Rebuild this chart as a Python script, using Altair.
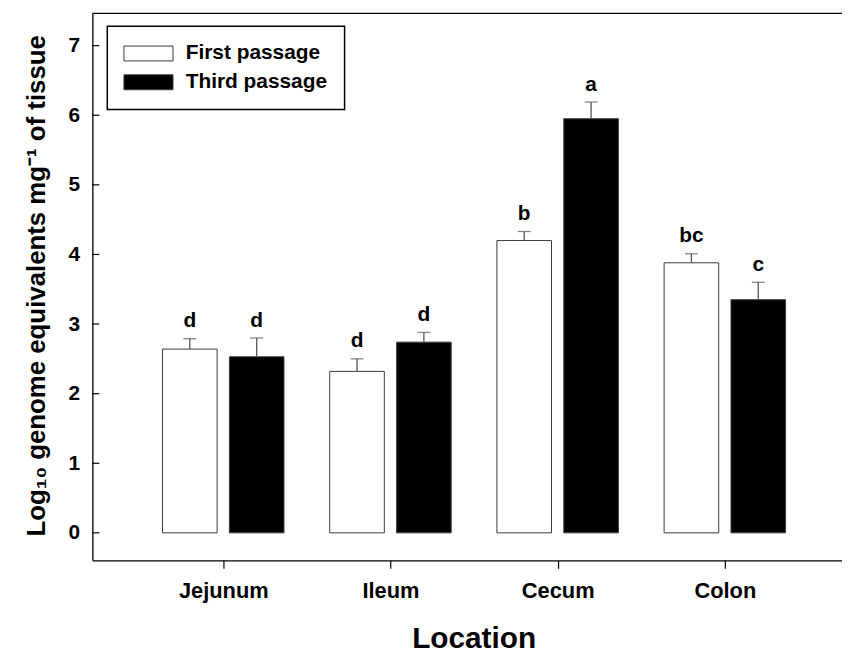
import json
import altair as alt
import pandas as pd

# ---- data ----
categories = ["Jejunum", "Ileum", "Cecum", "Colon"]
series_names = ["First passage", "Third passage"]
first_mean = [2.64, 2.32, 4.20, 3.88]
first_err = [0.15, 0.18, 0.13, 0.13]
third_mean = [2.53, 2.74, 5.95, 3.35]
third_err = [0.27, 0.14, 0.24, 0.25]
first_letters = ["d", "d", "b", "bc"]
third_letters = ["d", "d", "a", "c"]
y_ticks = [0, 1, 2, 3, 4, 5, 6, 7]

rows = []
for i, c in enumerate(categories):
    rows.append(dict(cat=c, idx=i + 1, series=series_names[0], mean=first_mean[i],
                     upper=first_mean[i] + first_err[i], letter=first_letters[i]))
    rows.append(dict(cat=c, idx=i + 1, series=series_names[1], mean=third_mean[i],
                     upper=third_mean[i] + third_err[i], letter=third_letters[i]))
df = pd.DataFrame(rows)

FONT = "Liberation Sans"
W, H = 755, 551
xscale = alt.Scale(domain=[0.247, 4.671], nice=False, zero=False)
yscale = alt.Scale(domain=[-0.395, 7.465], nice=False, zero=False)

label_expr = json.dumps(categories) + "[datum.value - 1]"

base = alt.Chart(df).transform_calculate(
    xpos="datum.idx + (datum.series == '%s' ? -0.2 : 0.2)" % series_names[0]
)

x_enc = alt.X(
    "xpos:Q", scale=xscale,
    axis=alt.Axis(values=[1, 2, 3, 4], labelExpr=label_expr, tickSize=8, tickColor="black",
                  tickWidth=1.2, labelPadding=12, labelFontSize=22, labelFontWeight="bold",
                  labelFont=FONT, labelColor="black", domainColor="black", domainWidth=1.3,
                  grid=False, title="Location", titleFontSize=30, titleFont=FONT,
                  titleFontWeight="bold", titleColor="black", titlePadding=23, titleX=384),
)
y_axis = alt.Axis(values=y_ticks, format="d", ticks=False, labelPadding=13, labelFontSize=21,
                  labelFontWeight="bold", labelFont=FONT, labelColor="black",
                  domainColor="black", domainWidth=1.3, grid=False,
                  title="Log\u2081\u2080 genome equivalents mg\u207b\u00b9 of tissue",
                  titleFontSize=26, titleFont=FONT, titleFontWeight="bold", titleColor="black",
                  titleX=-56, titleY=274, titleBaseline="middle", titleAngle=270)

bars = base.mark_bar(size=55, stroke="#3a3a3a", strokeWidth=1).encode(
    x=x_enc,
    y=alt.Y("mean:Q", scale=yscale, axis=y_axis),
    color=alt.Color(
        "series:N",
        scale=alt.Scale(domain=series_names, range=["white", "black"]),
        legend=alt.Legend(
            orient="none", legendX=15, legendY=13, title=None, padding=17,
            strokeColor="black", fillColor="white",
            symbolType="M-1.43,-1L5.16,-1L5.16,1L-1.43,1Z", symbolSize=225,
            symbolStrokeColor="#3a3a3a", symbolStrokeWidth=1, labelOffset=41,
            labelFontSize=21, labelFontWeight="bold", labelFont=FONT, labelColor="black",
            rowPadding=7,
        ),
    ),
)

err = base.mark_rule(color="#555555", strokeWidth=1.3).encode(
    x="xpos:Q", y="mean:Q", y2="upper:Q"
)
caps = base.mark_tick(orient="horizontal", size=13, thickness=1.3, color="#555555").encode(
    x="xpos:Q", y="upper:Q"
)
letters = base.mark_text(baseline="alphabetic", dy=-11.5, fontSize=21, fontWeight="bold",
                         font=FONT, color="black").encode(
    x="xpos:Q", y="upper:Q", text="letter:N"
)

ticks_in = alt.Chart(pd.DataFrame({"v": y_ticks})).mark_rule(color="black", strokeWidth=1.2).encode(
    y=alt.Y("v:Q", scale=yscale), x=alt.value(0), x2=alt.value(7)
)
top_line = alt.Chart(pd.DataFrame({"a": [0]})).mark_rule(color="black", strokeWidth=1.3).encode(
    y=alt.value(0), x=alt.value(0), x2=alt.value(W)
)

chart = alt.layer(bars, err, caps, letters, ticks_in, top_line).properties(
    width=W, height=H,
    autosize=alt.AutoSizeParams(type="none"),
    padding={"left": 85, "top": 3, "right": 0, "bottom": 92},
).configure_view(stroke=None).configure_legend(strokeWidth=1.5)

chart.save("out.html", embed_options={"renderer": "svg", "actions": False})
